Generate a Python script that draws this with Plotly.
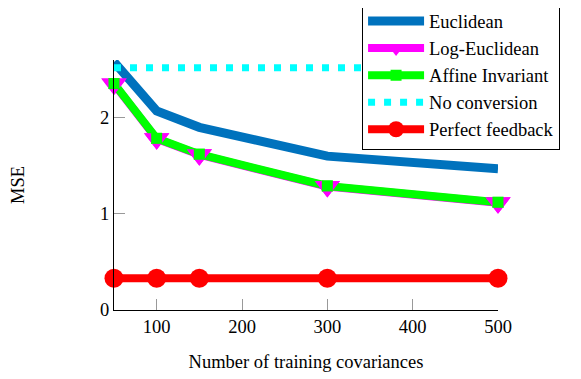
import plotly.graph_objects as go

x_vals = [50, 100, 150, 300, 500]
euclidean = [2.58, 2.07, 1.90, 1.60, 1.47]
log_euclidean = [2.35, 1.78, 1.615, 1.285, 1.115]
affine_invariant = [2.355, 1.785, 1.62, 1.29, 1.12]
no_conversion = [2.52, 2.52, 2.52, 2.52, 2.52]
perfect_feedback = [0.33, 0.33, 0.33, 0.33, 0.33]

x_ticks = [100, 200, 300, 400, 500]
y_ticks = [0, 1, 2]

FONT = "Liberation Serif, Times New Roman, serif"
FS = 18.5

fig = go.Figure()
fig.add_trace(go.Scatter(x=x_vals, y=euclidean, mode="lines", name="Euclidean",
                         line=dict(color="#0072BD", width=9), cliponaxis=False))
fig.add_trace(go.Scatter(x=x_vals, y=log_euclidean, mode="lines+markers", name="Log-Euclidean",
                         line=dict(color="#FF00FF", width=8),
                         marker=dict(symbol="triangle-down", size=22, color="#FF00FF"),
                         cliponaxis=False))
fig.add_trace(go.Scatter(x=x_vals, y=affine_invariant, mode="lines+markers", name="Affine Invariant",
                         line=dict(color="#00FF00", width=8),
                         marker=dict(symbol="square", size=11, color="#00FF00"),
                         cliponaxis=False))
# markers re-drawn on top of the lines (as in the original)
fig.add_trace(go.Scatter(x=x_vals, y=log_euclidean, mode="markers", showlegend=False,
                         marker=dict(symbol="triangle-down", size=22, color="#FF00FF"),
                         cliponaxis=False, hoverinfo="skip"))
fig.add_trace(go.Scatter(x=x_vals, y=affine_invariant, mode="markers", showlegend=False,
                         marker=dict(symbol="square", size=11, color="#00FF00"),
                         cliponaxis=False, hoverinfo="skip"))
fig.add_trace(go.Scatter(x=x_vals, y=no_conversion, mode="lines", name="No conversion",
                         line=dict(color="#00FFFF", width=7, dash="7px,9px"), cliponaxis=False))
fig.add_trace(go.Scatter(x=x_vals, y=perfect_feedback, mode="lines+markers", name="Perfect feedback",
                         line=dict(color="#FF0000", width=8),
                         marker=dict(symbol="circle", size=19, color="#FF0000"),
                         cliponaxis=False))

fig.update_layout(
    width=581, height=379,
    margin=dict(l=106, r=91, t=52, b=77, autoexpand=False),
    plot_bgcolor="white", paper_bgcolor="white",
    font=dict(family=FONT, size=FS, color="black"),
    showlegend=True,
    legend=dict(x=0.646, y=1.234, xanchor="left", yanchor="top",
                bgcolor="white", bordercolor="black", borderwidth=1,
                itemwidth=56,
                font=dict(family=FONT, size=FS)),
    xaxis=dict(range=[50, 500], tickvals=x_ticks, showline=True, linecolor="black", linewidth=1,
               ticks="inside", ticklen=11, tickcolor="#999999", tickwidth=1,
               showgrid=False, zeroline=False, mirror=False,
               title=dict(text="Number of training covariances", standoff=18,
                          font=dict(family=FONT, size=FS))),
    yaxis=dict(range=[0, 2.6], tickvals=y_ticks, showline=True, linecolor="black", linewidth=1,
               ticks="inside", ticklen=11, tickcolor="#999999", tickwidth=1,
               showgrid=False, zeroline=False, mirror=False,
               title=dict(text="MSE", standoff=70, font=dict(family=FONT, size=FS))),
)

fig.write_html("out.html")
